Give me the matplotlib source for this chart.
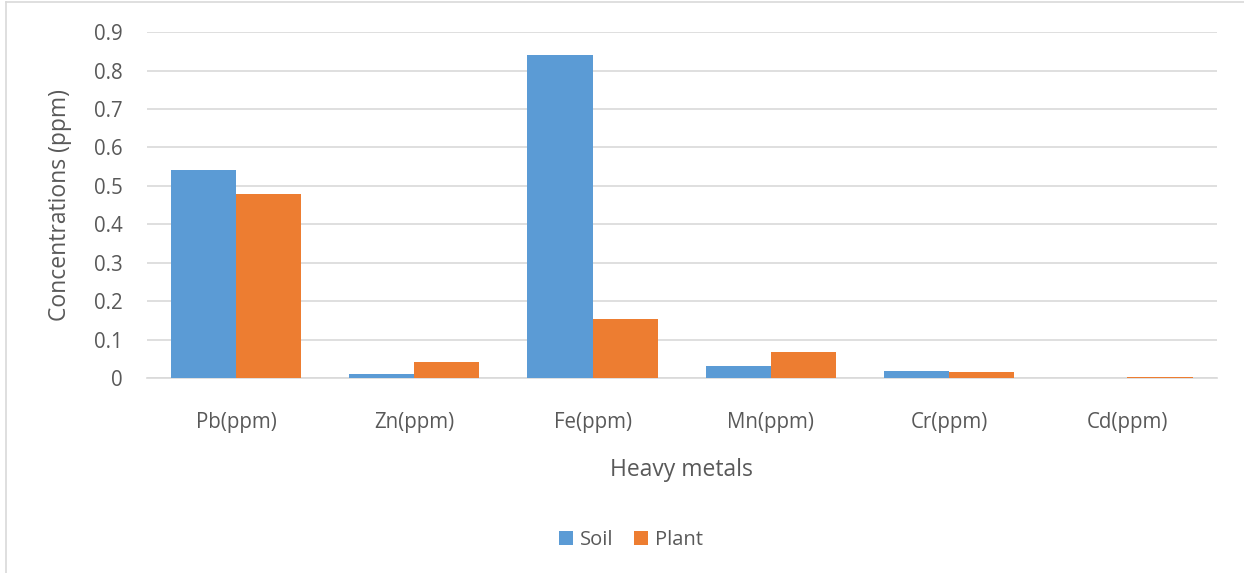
import matplotlib.pyplot as plt
from matplotlib.lines import Line2D
import numpy as np

# heavy metal concentrations
metals = ["Pb(ppm)", "Zn(ppm)", "Fe(ppm)", "Mn(ppm)", "Cr(ppm)", "Cd(ppm)"]
soil = [0.541, 0.010, 0.840, 0.031, 0.019, 0.0]
plant = [0.479, 0.043, 0.155, 0.069, 0.016, 0.003]

plt.rcParams['font.family'] = ['Open Sans', 'DejaVu Sans']
txt = '#595959'

fig = plt.figure(figsize=(12.44, 5.73), dpi=100)
ax = fig.add_axes([0.118, 0.340, 0.860, 0.604])

x = np.arange(len(metals))
w = 0.365
ax.bar(x - w / 2, soil, w, color='#5b9bd5', label='Soil', zorder=3)
ax.bar(x + w / 2, plant, w, color='#ed7d31', label='Plant', zorder=3)

ax.set_xlim(-0.5, len(metals) - 0.5)
ax.set_ylim(0, 0.9)
ax.set_yticks(np.arange(0, 0.91, 0.1))
ax.set_yticklabels(['0'] + ['%.1f' % v for v in np.arange(0.1, 0.91, 0.1)])
ax.set_xticks(x)
ax.set_xticklabels(metals)
ax.tick_params(axis='both', length=0, labelsize=14.8, colors=txt)
ax.tick_params(axis='x', pad=24)
ax.tick_params(axis='y', pad=17.5)
ax.grid(axis='y', color='#d9d9d9', linewidth=1.2, zorder=0)
for s in ['top', 'right', 'left']:
    ax.spines[s].set_visible(False)
ax.spines['bottom'].set_color('#d9d9d9')
ax.spines['bottom'].set_linewidth(1.2)

ax.set_xlabel('Heavy metals', fontsize=16.5, color=txt, labelpad=18)
ax.set_ylabel('Concentrations (ppm)', fontsize=16.5, color=txt, labelpad=16)

fig.legend(loc='center', bbox_to_anchor=(0.507, 0.058), ncol=2, frameon=False,
           fontsize=14.5, labelcolor=txt, handlelength=0.7, handleheight=0.7,
           handletextpad=0.35, columnspacing=1.0)

# outer chart frame
fig.add_artist(Line2D([0.005, 0.005], [0.0, 0.996], color='#d9d9d9', lw=1.2))
fig.add_artist(Line2D([0.005, 1.0], [0.996, 0.996], color='#d9d9d9', lw=1.2))

fig.savefig('out.png', dpi=100)
